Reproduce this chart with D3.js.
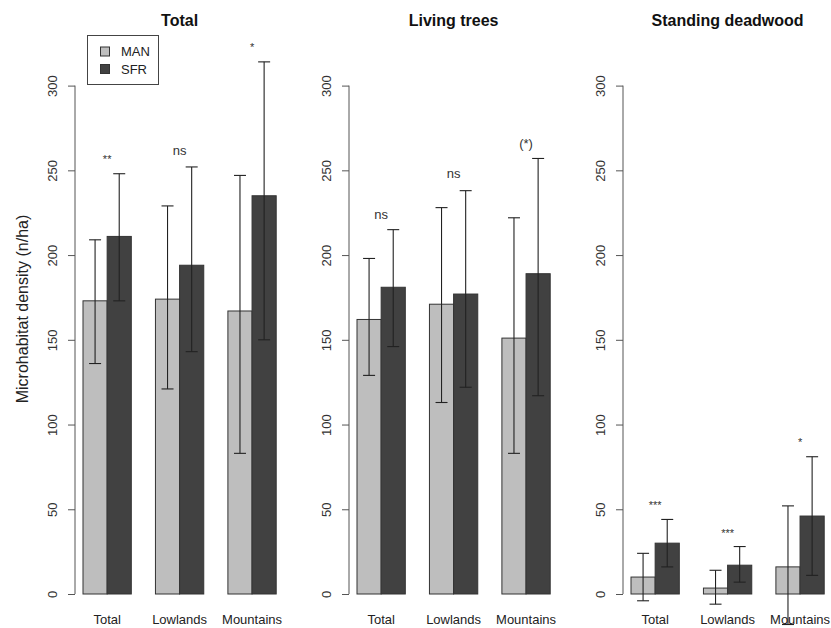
<!DOCTYPE html>
<html>
<head>
<meta charset="utf-8">
<script src="https://cdn.jsdelivr.net/npm/d3@7"></script>
<style>
  body { margin: 0; background: #fff; }
  svg { display: block; }
  text { font-family: "Liberation Sans", Arial, Helvetica, sans-serif; }
</style>
</head>
<body>
<svg id="chart" width="831" height="628"></svg>
<script>
// ---------- data ----------
const panels = ["Total", "Living trees", "Standing deadwood"];
const categories = ["Total", "Lowlands", "Mountains"];
const series = ["MAN", "SFR"];
const yTicks = [0, 50, 100, 150, 200, 250, 300];

// mean values [panel][category]
const manMean = [[173, 174, 167], [162, 171, 151], [10, 3.5, 16]];
const sfrMean = [[211, 194, 235], [181, 177, 189], [30, 17, 46]];
// error bar lower / upper
const manLow  = [[136, 121, 83], [129, 113, 83], [-4, -6, -18]];
const manHigh = [[209, 229, 247], [198, 228, 222], [24, 14, 52]];
const sfrLow  = [[173, 143, 150], [146, 122, 117], [16, 7, 11]];
const sfrHigh = [[248, 252, 314], [215, 238, 257], [44, 28, 81]];
// significance labels
const sigLabel = [["**", "ns", "*"], ["ns", "ns", "(*)"], ["***", "***", "*"]];
const sigValue = [[257, 262, 323], [224, 248, 266], [53, 36, 90]];

// ---------- layout ----------
const svg = d3.select("#chart");
const colors = { MAN: "#bebebe", SFR: "#414141" };
const y = d3.scaleLinear().domain([0, 300]).range([594, 85.6]);
const axisX = [75, 349, 623];
const unit = 24.15;

panels.forEach((title, p) => {
  const ax = axisX[p];
  const x = d3.scaleLinear().domain([1, 9]).range([ax + 8, ax + 8 + 8 * unit]);
  const g = svg.append("g");

  // y axis
  const yAxis = d3.axisLeft(y).tickValues(yTicks).tickSizeInner(7).tickSizeOuter(0).tickFormat(d3.format("d"));
  const ag = g.append("g").attr("transform", `translate(${ax},0)`).call(yAxis);
  ag.select(".domain").attr("stroke", "#555").attr("d", `M0,${y(0)}V${y(300)}`);
  ag.selectAll(".tick line").attr("stroke", "#555");
  ag.selectAll(".tick text")
    .attr("transform", "rotate(-90)")
    .attr("x", 0).attr("y", -18).attr("dy", 0)
    .attr("text-anchor", "middle")
    .attr("fill", "#333")
    .style("font-size", "13px");

  // title
  g.append("text")
    .attr("x", x(5)).attr("y", 26)
    .attr("text-anchor", "middle")
    .style("font-size", "16px").style("font-weight", "bold")
    .attr("fill", "#111")
    .text(title);

  categories.forEach((cat, i) => {
    const start = 1 + 3 * i;
    const bars = [
      { s: "MAN", x0: start, v: manMean[p][i], lo: manLow[p][i], hi: manHigh[p][i] },
      { s: "SFR", x0: start + 1, v: sfrMean[p][i], lo: sfrLow[p][i], hi: sfrHigh[p][i] }
    ];
    bars.forEach(b => {
      g.append("rect")
        .attr("x", x(b.x0)).attr("width", x(b.x0 + 1) - x(b.x0))
        .attr("y", y(b.v)).attr("height", y(0) - y(b.v))
        .attr("fill", colors[b.s])
        .attr("stroke", "#333").attr("stroke-width", 1);
    });
    bars.forEach(b => {
      const cx = x(b.x0 + 0.5);
      const eg = g.append("g").attr("stroke", "#222").attr("stroke-width", 1.1);
      eg.append("line").attr("x1", cx).attr("x2", cx).attr("y1", y(b.lo)).attr("y2", y(b.hi));
      eg.append("line").attr("x1", cx - 6).attr("x2", cx + 6).attr("y1", y(b.lo)).attr("y2", y(b.lo));
      eg.append("line").attr("x1", cx - 6).attr("x2", cx + 6).attr("y1", y(b.hi)).attr("y2", y(b.hi));
    });
    // category label
    g.append("text")
      .attr("x", x(start + 1)).attr("y", 624)
      .attr("text-anchor", "middle")
      .style("font-size", "13px").attr("fill", "#222")
      .text(cat);
    // significance
    const lab = sigLabel[p][i];
    const isStar = /^\*+$/.test(lab);
    g.append("text")
      .attr("x", x(start + 1)).attr("y", y(sigValue[p][i]))
      .attr("dy", isStar ? "0.4em" : "0.35em")
      .attr("text-anchor", "middle")
      .style("font-size", isStar ? "11px" : "13px")
      .attr("fill", "#333")
      .text(lab);
  });
});

// y-axis title
svg.append("text")
  .attr("transform", "translate(28,309) rotate(-90)")
  .attr("text-anchor", "middle")
  .style("font-size", "16px").attr("fill", "#222")
  .text("Microhabitat density (n/ha)");

// legend
const lg = svg.append("g");
lg.append("rect").attr("x", 87.5).attr("y", 35.5).attr("width", 71).attr("height", 49)
  .attr("fill", "#fff").attr("stroke", "#444").attr("stroke-width", 1);
series.forEach((s, k) => {
  const cy = 51.5 + k * 17.5;
  lg.append("rect").attr("x", 100.5).attr("y", cy - 4.5).attr("width", 9).attr("height", 9)
    .attr("fill", colors[s]).attr("stroke", "#333");
  lg.append("text").attr("x", 121).attr("y", cy).attr("dy", "0.35em")
    .style("font-size", "13px").attr("fill", "#222").text(s);
});
</script>
</body>
</html>
